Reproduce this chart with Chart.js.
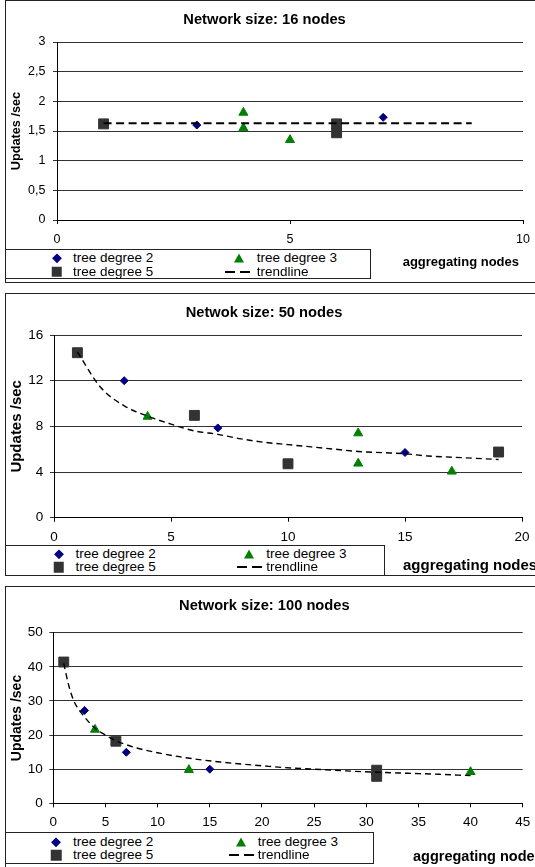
<!DOCTYPE html>
<html>
<head>
<meta charset="utf-8">
<script src="https://cdn.jsdelivr.net/npm/chart.js@4.4.1/dist/chart.umd.min.js"></script>
<style>
  body { margin: 0; width: 535px; height: 867px; overflow: hidden; background: #fff; font-family: "Liberation Sans", Arial, sans-serif; }
  .panel { position: absolute; left: 5px; width: 540px; height: 281px; border: 1px solid #222; }
  .panel canvas { position: absolute; left: 0; top: 0; }
  .legend { position: absolute; border: 1px solid #222; box-sizing: border-box; background: #fff; }
  .txt { position: absolute; white-space: nowrap; color: #000; line-height: 16px; }
  .xtitle { position: absolute; white-space: nowrap; font-weight: bold; color: #000; line-height: 1; }
  .mk { position: absolute; transform: translate(-50%, -50%); }
</style>
</head>
<body>
<div class="panel" id="p1" style="top:0px"><canvas id="c1" width="534" height="281"></canvas></div>
<div class="panel" id="p2" style="top:293px"><canvas id="c2" width="534" height="281"></canvas></div>
<div class="panel" id="p3" style="top:586px"><canvas id="c3" width="534" height="281"></canvas></div>
<script>
// --- Network size: 16 nodes
const n16Deg2X = [3, 7];
const n16Deg2Y = [1.6, 1.73];
const n16Deg3X = [4, 4, 5];
const n16Deg3Y = [1.81, 1.55, 1.35];
const n16Deg5X = [1, 6, 6];
const n16Deg5Y = [1.62, 1.62, 1.47];
const n16TrendX = [1, 8.9];
const n16TrendY = [1.63, 1.63];
const n16YTicks = [0, 0.5, 1, 1.5, 2, 2.5, 3];
const n16XTicks = [0, 5, 10];

// --- Netwok size: 50 nodes
const n50Deg2X = [3, 7, 15];
const n50Deg2Y = [12, 7.86, 5.71];
const n50Deg3X = [4, 13, 13, 17];
const n50Deg3Y = [8.85, 7.4, 4.75, 4.05];
const n50Deg5X = [1, 6, 10, 19];
const n50Deg5Y = [14.45, 8.96, 4.72, 5.75];
const n50TrendX = [1, 2, 3, 4, 5, 6, 7, 8, 9, 10, 11, 12, 13, 14, 15, 16, 17, 18, 19];
const n50TrendY = [14.5, 11.4, 9.8, 8.9, 8.2, 7.6, 7.3, 6.9, 6.6, 6.4, 6.2, 6.0, 5.8, 5.7, 5.6, 5.4, 5.3, 5.2, 5.1];
const n50YTicks = [0, 4, 8, 12, 16];
const n50XTicks = [0, 5, 10, 15, 20];

// --- Network size: 100 nodes
const n100Deg2X = [3, 7, 15];
const n100Deg2Y = [27.2, 14.95, 10];
const n100Deg3X = [4, 13, 40];
const n100Deg3Y = [21.6, 9.8, 9.2];
const n100Deg5X = [1, 6, 31, 31];
const n100Deg5Y = [41.4, 18.2, 9.7, 7.9];
const n100TrendX = [1, 1.5, 2, 3, 4, 5, 6, 7, 8, 10, 12, 14, 16, 18, 20, 22, 25, 28, 31, 34, 37, 40];
const n100TrendY = [41.0, 34.3, 29.8, 25.3, 22.0, 20.0, 18.3, 17.2, 16.2, 14.8, 13.7, 12.8, 12.1, 11.5, 11.0, 10.5, 10.0, 9.5, 9.1, 8.8, 8.5, 8.1];
const n100YTicks = [0, 10, 20, 30, 40, 50];
const n100XTicks = [0, 5, 10, 15, 20, 25, 30, 35, 40, 45];

const legendLabels = ['tree degree 2', 'tree degree 3', 'tree degree 5', 'trendline'];
const FONT = '"Liberation Sans", Arial, sans-serif';
const NAVY = '#000080';
const GREEN = '#008000';
const DARK = '#333333';

const pts = (xs, ys) => xs.map((x, i) => ({ x: x, y: ys[i] }));

const panels = [
  {
    canvas: 'c1', panel: 'p1', title: 'Network size: 16 nodes',
    d2x: n16Deg2X, d2y: n16Deg2Y, d3x: n16Deg3X, d3y: n16Deg3Y, d5x: n16Deg5X, d5y: n16Deg5Y,
    tx: n16TrendX, ty: n16TrendY, yTicks: n16YTicks, xTicks: n16XTicks,
    area: { left: 51, right: 517, top: 41, bottom: 219 },
    titleY: 19, yTitleX: 10.7, yTitleSize: 12.7, tickSize: 12.5, xLabelY: 238.3, yPad: 7.5,
    trendWidth: 2, dash: [8, 4.5],
    legend: { left: -1, top: 248.3, width: 366, height: 30, row1: 257.3, row2: 270.7, m1: 50.5, t1: 67, m2: 233, d2a: 219.3, d2b: 244.9, t2: 250.7 },
    xTitle: { left: 396.7, y: 260, size: 13 }
  },
  {
    canvas: 'c2', panel: 'p2', title: 'Netwok size: 50 nodes',
    d2x: n50Deg2X, d2y: n50Deg2Y, d3x: n50Deg3X, d3y: n50Deg3Y, d5x: n50Deg5X, d5y: n50Deg5Y,
    tx: n50TrendX, ty: n50TrendY, yTicks: n50YTicks, xTicks: n50XTicks,
    area: { left: 48, right: 516, top: 41, bottom: 223.7 },
    titleY: 18.7, yTitleX: 11.3, yTitleSize: 15, tickSize: 13.5, xLabelY: 243, yPad: 6.7,
    trendWidth: 1.4, dash: [6, 4],
    legend: { left: -1, top: 251, width: 380, height: 31, row1: 260.3, row2: 273.3, m1: 52.5, t1: 69.4, m2: 243.1, d2a: 230.5, d2b: 256.1, t2: 260.2 },
    xTitle: { left: 397, y: 270, size: 15 }
  },
  {
    canvas: 'c3', panel: 'p3', title: 'Network size: 100 nodes',
    d2x: n100Deg2X, d2y: n100Deg2Y, d3x: n100Deg3X, d3y: n100Deg3Y, d5x: n100Deg5X, d5y: n100Deg5Y,
    tx: n100TrendX, ty: n100TrendY, yTicks: n100YTicks, xTicks: n100XTicks,
    area: { left: 47.3, right: 516.7, top: 45.7, bottom: 216.3 },
    titleY: 19, yTitleX: 10.7, yTitleSize: 14, tickSize: 13.5, xLabelY: 235.3, yPad: 6.6,
    trendWidth: 1.4, dash: [6, 4],
    legend: { left: -1, top: 245.3, width: 369, height: 32, row1: 255.3, row2: 268, m1: 50.2, t1: 67, m2: 234.6, d2a: 222.7, d2b: 248.3, t2: 251.7 },
    xTitle: { left: 407, y: 269, size: 14.5 }
  }
];

function makeChart(cfg) {
  const canvas = document.getElementById(cfg.canvas);
  const W = canvas.width, H = canvas.height;
  const a = cfg.area;
  const titleSize = 14.7, titleLH = titleSize * 1.2;
  const titleTop = cfg.titleY - titleLH / 2;
  const yTitleLH = cfg.yTitleSize * 1.2;
  const tickLH = cfg.tickSize * 1.2;

  new Chart(canvas, {
    type: 'scatter',
    data: {
      datasets: [
        {
          type: 'line', label: legendLabels[3], data: pts(cfg.tx, cfg.ty),
          borderColor: '#000', borderWidth: cfg.trendWidth, borderDash: cfg.dash,
          pointRadius: 0, fill: false, cubicInterpolationMode: 'monotone'
        },
        {
          label: legendLabels[0], data: pts(cfg.d2x, cfg.d2y), pointStyle: 'rectRot',
          pointRadius: 4, backgroundColor: NAVY, borderColor: NAVY, borderWidth: 1
        },
        {
          label: legendLabels[1], data: pts(cfg.d3x, cfg.d3y), pointStyle: 'triangle',
          pointRadius: 5.2, backgroundColor: GREEN, borderColor: GREEN, borderWidth: 1
        },
        {
          label: legendLabels[2], data: pts(cfg.d5x, cfg.d5y), pointStyle: 'rect',
          pointRadius: 7, backgroundColor: DARK, borderColor: DARK, borderWidth: 1
        }
      ]
    },
    options: {
      responsive: false,
      animation: false,
      devicePixelRatio: 1,
      events: [],
      layout: { padding: { left: 0, top: 0, right: W - a.right, bottom: 0 } },
      plugins: {
        legend: { display: false },
        tooltip: { enabled: false },
        title: {
          display: true, text: cfg.title, color: '#000',
          font: { family: FONT, size: titleSize, weight: 'bold', lineHeight: 1.2 },
          padding: { top: titleTop, bottom: a.top - titleTop - titleLH }
        }
      },
      scales: {
        x: {
          type: 'linear',
          min: cfg.xTicks[0], max: cfg.xTicks[cfg.xTicks.length - 1],
          afterBuildTicks: s => { s.ticks = cfg.xTicks.map(v => ({ value: v })); },
          afterFit: s => { s.height = H - a.bottom; },
          grid: { drawOnChartArea: false, drawTicks: true, tickLength: 4, color: '#000' },
          border: { display: true, color: '#000', width: 1 },
          ticks: {
            color: '#000', padding: (cfg.xLabelY - a.bottom) - tickLH / 2 - 4,
            font: { family: FONT, size: cfg.tickSize, lineHeight: 1.2 }, maxRotation: 0
          }
        },
        y: {
          type: 'linear',
          min: cfg.yTicks[0], max: cfg.yTicks[cfg.yTicks.length - 1],
          afterBuildTicks: s => { s.ticks = cfg.yTicks.map(v => ({ value: v })); },
          afterFit: s => { s.width = a.left; },
          grid: { color: '#333', lineWidth: 1, drawTicks: true, tickLength: 4 },
          border: { display: true, color: '#000', width: 1 },
          ticks: {
            color: '#000', padding: cfg.yPad,
            font: { family: FONT, size: cfg.tickSize, lineHeight: 1.2 },
            callback: v => String(v).replace('.', ',')
          },
          title: {
            display: true, text: 'Updates /sec', color: '#000',
            font: { family: FONT, size: cfg.yTitleSize, weight: 'bold', lineHeight: 1.2 },
            padding: { top: cfg.yTitleX - yTitleLH / 2, bottom: 0 }
          }
        }
      }
    }
  });
}

function marker(kind, x, y) {
  const el = document.createElement('div');
  el.className = 'mk';
  el.style.left = x + 'px';
  el.style.top = y + 'px';
  if (kind === 'diamond') {
    el.style.width = '6.5px'; el.style.height = '6.5px';
    el.style.background = NAVY;
    el.style.transform = 'translate(-50%, -50%) rotate(45deg)';
  } else if (kind === 'triangle') {
    el.style.width = '0'; el.style.height = '0';
    el.style.borderLeft = '5px solid transparent';
    el.style.borderRight = '5px solid transparent';
    el.style.borderBottom = '9px solid ' + GREEN;
  } else if (kind === 'square') {
    el.style.width = '10.5px'; el.style.height = '10.5px';
    el.style.background = DARK;
  }
  return el;
}

function text(str, x, y, size) {
  const el = document.createElement('div');
  el.className = 'txt';
  el.style.left = x + 'px';
  el.style.top = (y - 8) + 'px';
  el.style.fontSize = size + 'px';
  el.textContent = str;
  return el;
}

function makeLegend(cfg) {
  const p = document.getElementById(cfg.panel);
  const L = cfg.legend;
  const box = document.createElement('div');
  box.className = 'legend';
  box.style.left = L.left + 'px';
  box.style.top = L.top + 'px';
  box.style.width = L.width + 'px';
  box.style.height = L.height + 'px';
  p.appendChild(box);

  p.appendChild(marker('diamond', L.m1, L.row1));
  p.appendChild(text(legendLabels[0], L.t1, L.row1, 13.5));
  p.appendChild(marker('triangle', L.m2, L.row1));
  p.appendChild(text(legendLabels[1], L.t2, L.row1, 13.5));
  p.appendChild(marker('square', L.m1, L.row2));
  p.appendChild(text(legendLabels[2], L.t1, L.row2, 13.5));

  const dash = document.createElement('div');
  dash.style.position = 'absolute';
  dash.style.left = L.d2a + 'px';
  dash.style.top = (L.row2 - 1) + 'px';
  dash.style.width = (L.d2b - L.d2a) + 'px';
  dash.style.height = '2px';
  dash.style.background = 'repeating-linear-gradient(to right, #000 0 10px, transparent 10px 15px)';
  p.appendChild(dash);
  p.appendChild(text(legendLabels[3], L.t2, L.row2, 13.5));

  const xt = document.createElement('div');
  xt.className = 'xtitle';
  xt.style.left = cfg.xTitle.left + 'px';
  xt.style.top = (cfg.xTitle.y - cfg.xTitle.size / 2) + 'px';
  xt.style.fontSize = cfg.xTitle.size + 'px';
  xt.textContent = 'aggregating nodes';
  p.appendChild(xt);
}

panels.forEach(cfg => {
  makeChart(cfg);
  makeLegend(cfg);
});
</script>
</body>
</html>
